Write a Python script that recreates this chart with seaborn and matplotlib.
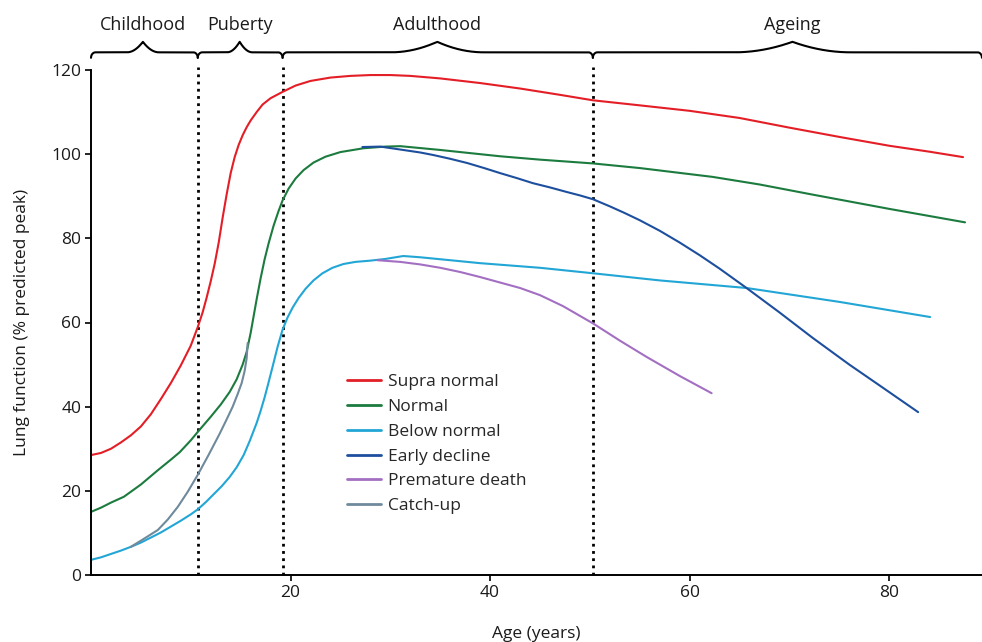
import numpy as np
import pandas as pd
import matplotlib
matplotlib.use("Agg")
import matplotlib.pyplot as plt
import seaborn as sns

# ---------------- data ----------------
supra_x = [0, 1, 2, 3, 4, 5, 6, 7, 8, 9, 10, 10.7, 11.2, 11.6, 12, 12.4, 12.8, 13.2, 13.6, 14, 14.4, 14.8,
           15.2, 15.6, 16, 16.6, 17.2, 18, 19.2, 20.5, 22, 24, 26, 28, 30, 32, 35, 39, 43, 47, 50.3, 55, 60,
           65, 70, 75, 80, 84, 87.4]
supra_y = [28.5, 29, 30, 31.5, 33.2, 35.3, 38.2, 41.8, 45.6, 49.8, 54.5, 58.9, 62.5, 66, 69.8, 74, 79, 85,
           90.5, 95.5, 99.3, 102.2, 104.5, 106.4, 108, 110, 111.8, 113.3, 114.8, 116.3, 117.4, 118.2, 118.6,
           118.8, 118.8, 118.6, 118, 116.9, 115.6, 114.1, 112.8, 111.6, 110.3, 108.6, 106.3, 104.1, 102,
           100.6, 99.3]

normal_x = [0, 1, 2, 3.3, 5, 6.7, 8, 8.9, 10, 10.7, 12, 13, 13.9, 14.6, 15.2, 15.6, 16, 16.3, 16.6, 17,
            17.4, 17.8, 18.3, 18.8, 19.2, 19.8, 20.5, 21.3, 22.3, 23.5, 25, 27.3, 29.5, 31, 35, 41, 45,
            50.3, 55, 62.3, 67, 72.3, 80, 87.6]
normal_y = [15, 16, 17.2, 18.6, 21.5, 24.9, 27.4, 29.2, 32, 34, 37.6, 40.5, 43.5, 46.5, 50, 53, 57.5, 61.5,
            65.5, 70.5, 75, 78.8, 83, 86.5, 89, 91.8, 94.2, 96.2, 98, 99.4, 100.5, 101.4, 101.8, 101.9, 101,
            99.5, 98.7, 97.8, 96.7, 94.6, 92.8, 90.4, 87, 83.8]

below_x = [0, 1, 2, 3, 4, 5, 6, 7, 8, 9, 10, 10.7, 11.5, 12.3, 13.1, 13.9, 14.6, 15.3, 15.9, 16.6, 17,
           17.4, 17.8, 18.2, 18.7, 19.2, 19.7, 20.2, 20.8, 21.5, 22.3, 23.2, 24.2, 25.3, 26.5, 28, 29.5,
           31.3, 33, 36, 39, 45, 50.3, 57, 65.7, 75, 84.1]
below_y = [3.6, 4.2, 5, 5.8, 6.7, 7.7, 8.9, 10.1, 11.5, 12.9, 14.4, 15.6, 17.3, 19.2, 21.1, 23.3, 25.6,
           28.5, 31.8, 36.1, 39, 42.2, 45.8, 49.5, 54.2, 58.3, 61.2, 63.5, 65.8, 68, 70, 71.7, 73, 73.9,
           74.4, 74.7, 75.1, 75.8, 75.5, 74.8, 74.1, 73, 71.7, 70, 68.2, 64.9, 61.3]

early_x = [27.2, 29, 31, 33, 34.3, 36, 37.7, 39.4, 41, 42.7, 44.3, 46, 47.7, 49, 50.3, 52, 53.5, 55, 57,
           59, 61, 63, 65.7, 69, 72.3, 76, 79, 82.9]
early_y = [101.7, 101.8, 101.1, 100.4, 99.8, 98.9, 97.9, 96.7, 95.5, 94.3, 93.1, 92.1, 91, 90.2, 89.3,
           87.6, 86, 84.3, 81.8, 79, 76, 72.8, 68.2, 62.4, 56.4, 50, 45.1, 38.7]

death_x = [28.7, 31, 33, 35, 37, 39, 41, 43, 45, 47.3, 50.3, 53, 55.7, 59, 62.2]
death_y = [74.8, 74.4, 73.8, 73, 72, 70.8, 69.5, 68.2, 66.5, 63.9, 59.8, 55.7, 51.8, 47.3, 43.2]

catch_x = [4, 5.3, 6.7, 7.7, 8.7, 9.7, 10.7, 11.8, 12.9, 13.6, 14.2, 14.7, 15.1, 15.4, 15.6, 15.7]
catch_y = [6.7, 8.6, 10.7, 13.2, 16.2, 19.8, 23.8, 28.6, 33.6, 37, 40, 43, 45.6, 48.5, 51.5, 55.1]

series_names = ["Supra normal", "Normal", "Below normal", "Early decline", "Premature death", "Catch-up"]
series_x = [supra_x, normal_x, below_x, early_x, death_x, catch_x]
series_y = [supra_y, normal_y, below_y, early_y, death_y, catch_y]
colors = ["#e41e26", "#1c7b3e", "#22a6d5", "#1d4f9e", "#a36fc2", "#6f8a9c"]

stage_names = ["Childhood", "Puberty", "Adulthood", "Ageing"]
stage_bounds = [0, 10.7, 19.2, 50.3, 89.3]
stage_label_x = [5.2, 14.9, 34.7, 70.3]

x_ticks = [20, 40, 60, 80]
y_ticks = [0, 20, 40, 60, 80, 100, 120]

# ---------------- figure ----------------
sns.set_theme(style="ticks")
plt.rcParams["font.family"] = ["Open Sans", "DejaVu Sans"]

rows = []
for name, xs, ys in zip(series_names, series_x, series_y):
    for xv, yv in zip(xs, ys):
        rows.append({"age": xv, "value": yv, "series": name})
df = pd.DataFrame(rows)

fig = plt.figure(figsize=(9.82, 6.42), dpi=100)
ax = fig.add_axes([91 / 982, 67 / 642, 891 / 982, 505 / 642])

sns.lineplot(data=df, x="age", y="value", hue="series", hue_order=series_names,
             palette=dict(zip(series_names, colors)), sort=False, estimator=None,
             linewidth=1.5, ax=ax, legend=True)

ax.set_xlim(0, 89.3)
ax.set_ylim(0, 120)

# stage separators (dotted)
for xb in stage_bounds[1:-1]:
    ax.plot([xb, xb], [0, 120.6], color="black", lw=2.0, linestyle=(0, (1, 1.6)),
            dash_capstyle="butt", clip_on=False, zorder=1)


# curly braces
def brace(a, b, m, y0=124.2, tip=2.5, hook=1.3, w_hook=0.45):
    xs = np.linspace(a, b, 1500)
    ext = 0.15 * (b - a)
    ys = np.full_like(xs, y0)
    d = np.abs(xs - m)
    t = np.clip(1 - d / ext, 0, 1)
    ys += tip * t ** 2
    u = (xs - a) / w_hook
    left = u < 1
    ys[left] -= hook * (1 - np.sqrt(np.clip(1 - (1 - u[left]) ** 2, 0, 1)))
    u2 = (b - xs) / w_hook
    right = u2 < 1
    ys[right] -= hook * (1 - np.sqrt(np.clip(1 - (1 - u2[right]) ** 2, 0, 1)))
    ax.plot(xs, ys, color="black", lw=1.5, clip_on=False, solid_capstyle="round",
            solid_joinstyle="round")


for i, name in enumerate(stage_names):
    a, b = stage_bounds[i], stage_bounds[i + 1]
    m = stage_label_x[i]
    brace(a, b, m)
    ax.text(m, 130.6, name, ha="center", va="center", fontsize=13, color="#1a1a1a",
            clip_on=False)

# axes styling
sns.despine(ax=ax)
for side in ["left", "bottom"]:
    ax.spines[side].set_linewidth(1.4)
    ax.spines[side].set_color("black")
ax.set_xticks(x_ticks)
ax.set_yticks(y_ticks)
ax.tick_params(axis="both", direction="out", length=4, width=1.2, color="black",
               labelsize=12.5, labelcolor="#1a1a1a", pad=3)
ax.set_xlabel("Age (years)", fontsize=12.5, color="#1a1a1a", labelpad=18)
ax.set_ylabel("Lung function (% predicted peak)", fontsize=12.5, color="#1a1a1a", labelpad=15)
ax.grid(False)

handles, labels = ax.get_legend_handles_labels()
for h in handles:
    h.set_linewidth(2.0)
ax.legend(handles, labels, loc="upper left", bbox_to_anchor=(0.287, 0.398), frameon=False,
          fontsize=12.5, handlelength=2.0, handletextpad=0.35, labelspacing=0.5,
          borderpad=0, borderaxespad=0)

fig.savefig("out.png", dpi=100)
